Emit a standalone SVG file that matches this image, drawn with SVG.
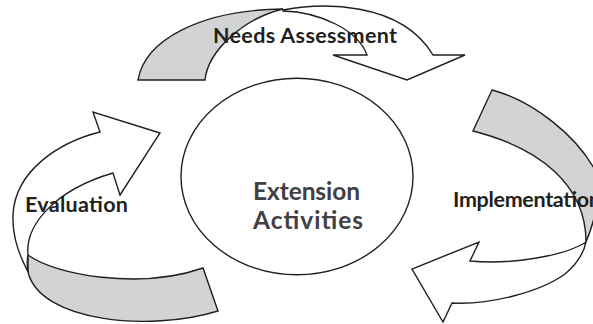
<svg xmlns="http://www.w3.org/2000/svg" width="593" height="324" viewBox="0 0 593 324">
<style>
.back{fill:#d1d3d4;stroke:#231f20;stroke-width:1.4;stroke-linejoin:miter}
.front{fill:#ffffff;stroke:#231f20;stroke-width:1.4;stroke-linejoin:miter}
.lbl{font-family:Lato,"Liberation Sans",sans-serif;font-weight:bold;font-size:21.5px;fill:#231f20}
.ctr{font-family:Lato,"Liberation Sans",sans-serif;font-weight:bold;font-size:24.5px;fill:#414042;text-anchor:middle}
</style>
<rect width="593" height="324" fill="#ffffff"/>
<g id="connectors">
  <g id="arrow-needs">
    <path class="back" d="M138,80 C145,40 200,10 283,9 C245,18 208,50 205,80 Z"/>
    <path class="front" d="M283,10 C320,3 400,0 433,55 L465,55 L407,80 L333,55 L367,55 C358,30 320,12 283,11 Z"/>
  </g>
  <g id="arrow-implementation">
    <path class="back" d="M492,90 C530,100 580,135 600,180 L600,200 L598,200 C594,222 589,235 586,242 C586,185 540,148 473,131 Z"/>
    <path class="front" d="M586,242 C565,256 510,265 470,261 L479,242 L412,269 L443,322 L452,303 C490,305 540,292 565,274 C578,263 584,252 586,242 Z"/>
  </g>
  <g id="arrow-evaluation">
    <path class="back" d="M28,255 C55,275 140,290 203,268 L218,311 C150,332 40,322 28,272 Z"/>
    <path class="front" d="M28,255 C25,225 55,190 113,173 L120,195 L160,133 L93,112 L100,132 C60,142 15,170 13,215 C12,240 22,260 28,272 C27,266 27,260 28,255 Z"/>
  </g>
</g>
<g id="node-extension">
  <ellipse cx="297" cy="176.5" rx="116" ry="98.3" fill="#ffffff" stroke="#231f20" stroke-width="1.4"/>
  <text class="ctr" x="306.5" y="200" textLength="107">Extension</text>
  <text class="ctr" x="308" y="229" textLength="110">Activities</text>
</g>
<g id="node-needs">
  <text class="lbl" x="213" y="43" textLength="184">Needs Assessment</text>
</g>
<g id="node-implementation">
  <text class="lbl" x="453" y="207" textLength="148">Implementation</text>
</g>
<g id="node-evaluation">
  <text class="lbl" x="25" y="212" textLength="103">Evaluation</text>
</g>
</svg>
